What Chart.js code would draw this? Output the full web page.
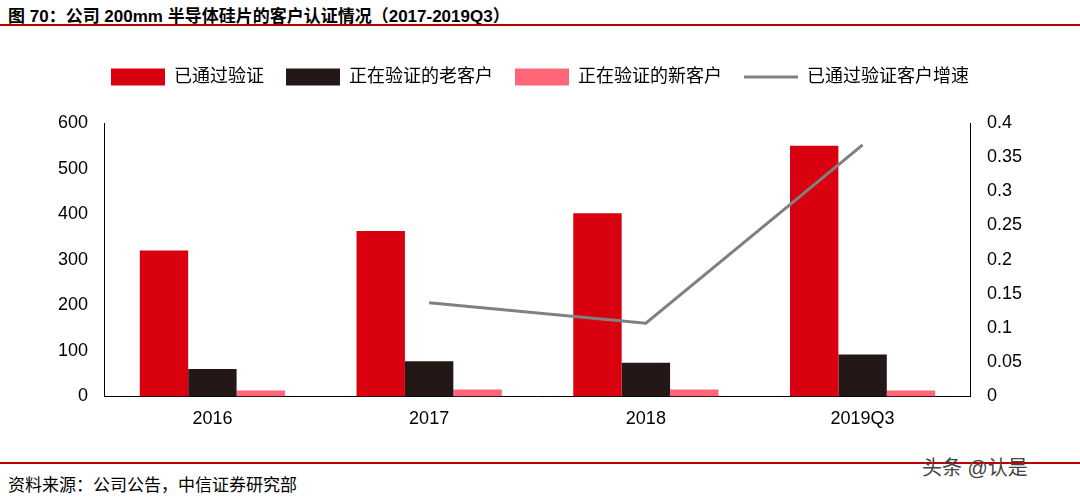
<!DOCTYPE html>
<html><head><meta charset="utf-8">
<script src="https://cdn.jsdelivr.net/npm/chart.js@4/dist/chart.umd.min.js"></script>
<style>
body{margin:0;width:1080px;height:497px;background:#fff;font-family:"Liberation Sans","Noto Sans CJK SC",sans-serif;position:relative;overflow:hidden}
#t{position:absolute;left:8px;top:2px;font-size:17px;color:#000;font-weight:bold}
#l1{position:absolute;left:0;top:24px;width:1080px;height:2px;background:#c00000}
#l2{position:absolute;left:0;top:462px;width:1080px;height:2px;background:#c00000}
#s{position:absolute;left:8px;top:471px;font-size:17px;color:#000}
#w{position:absolute;left:922px;top:452px;font-size:20px;color:#444}
#c{position:absolute;left:0;top:46px;width:1080px;height:396px}
</style></head><body>
<div id="t">图 70：公司 200mm 半导体硅片的客户认证情况（2017-2019Q3）</div>
<div id="l1"></div>
<div id="c"><canvas id="cv"></canvas></div>
<div id="l2"></div>
<div id="s">资料来源：公司公告，中信证券研究部</div>
<div id="w">头条 @认是</div>
<script>
const categories=["2016","2017","2018","2019Q3"];
const verified=[320,363,402,550];
const oldPending=[60,77,74,92];
const newPending=[13,15,15,13];
const growth=[null,0.137,0.107,0.368];
const F='"Liberation Sans","Noto Sans CJK SC",sans-serif';
Chart.defaults.font.family=F;Chart.defaults.color='#000';
new Chart(document.getElementById('cv'),{
data:{labels:categories,datasets:[
{type:'bar',label:'已通过验证',data:verified,backgroundColor:'#d9000f',yAxisID:'y',order:2,categoryPercentage:0.67,barPercentage:1},
{type:'bar',label:'正在验证的老客户',data:oldPending,backgroundColor:'#231815',yAxisID:'y',order:2,categoryPercentage:0.67,barPercentage:1},
{type:'bar',label:'正在验证的新客户',data:newPending,backgroundColor:'#ff6677',yAxisID:'y',order:2,categoryPercentage:0.67,barPercentage:1},
{type:'line',label:'已通过验证客户增速',data:growth,borderColor:'#808080',backgroundColor:'#808080',borderWidth:3,pointRadius:0,yAxisID:'y1',order:1}
]},
plugins:[{id:'lg',beforeInit(c){const f=c.legend.fit;c.legend.fit=function(){f.call(this);this.height+=27;};}}],
options:{responsive:true,maintainAspectRatio:false,animation:false,
layout:{padding:{left:50,right:50,top:0,bottom:0}},
plugins:{legend:{labels:{font:{size:18},usePointStyle:true,pointStyleWidth:54,boxHeight:17,padding:22,
 sort:(a,b)=>a.datasetIndex-b.datasetIndex,
 generateLabels(c){const l=Chart.defaults.plugins.legend.labels.generateLabels(c);l.forEach(i=>{if(i.datasetIndex===3){i.lineWidth=3;i.pointStyle='line';}else{i.lineWidth=0;i.pointStyle='rect';}});return l;}},
 },tooltip:{enabled:false}},
scales:{
x:{grid:{display:false,drawTicks:false},border:{color:'#000'},ticks:{font:{size:18},padding:12}},
y:{min:0,max:600,ticks:{stepSize:100,font:{size:18},padding:8},grid:{display:false},border:{color:'#000'}},
y1:{position:'right',min:0,max:0.4,ticks:{stepSize:0.05,font:{size:18},padding:8,callback:v=>+v.toFixed(2)},grid:{display:false},border:{color:'#000'}}
}}});
</script></body></html>
